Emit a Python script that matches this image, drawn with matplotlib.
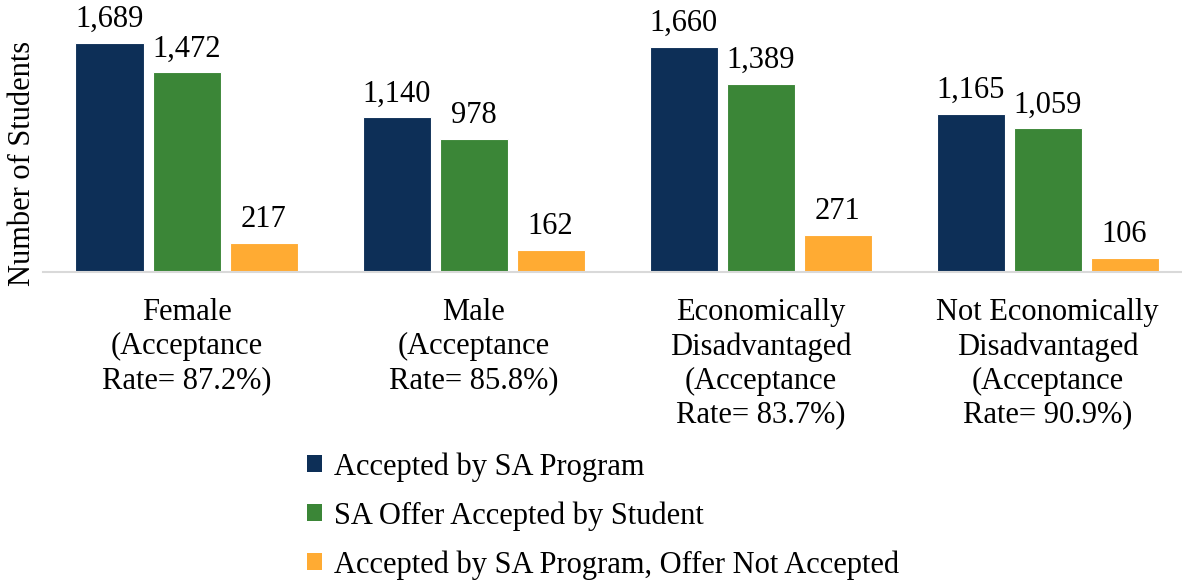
import matplotlib
matplotlib.use("Agg")
import matplotlib.pyplot as plt
import numpy as np
from matplotlib.patches import Patch

categories = [
    "Female\n(Acceptance\nRate= 87.2%)",
    "Male\n(Acceptance\nRate= 85.8%)",
    "Economically\nDisadvantaged\n(Acceptance\nRate= 83.7%)",
    "Not Economically\nDisadvantaged\n(Acceptance\nRate= 90.9%)",
]
series_names = [
    "Accepted by SA Program",
    "SA Offer Accepted by Student",
    "Accepted by SA Program, Offer Not Accepted",
]
accepted_program = [1689, 1140, 1660, 1165]
offer_accepted = [1472, 978, 1389, 1059]
offer_not_accepted = [217, 162, 271, 106]
colors = ["#0d2f57", "#3b8637", "#ffab33"]

plt.rcParams["font.family"] = ["Liberation Serif"]
FS = 22

W, H = 1182, 580
fig = plt.figure(figsize=(W / 100, H / 100), dpi=100)
ax = fig.add_axes([43 / W, (H - 272) / H, 1148 / W, 272 / H])

x = np.arange(len(categories))
step = 77 / 287
width = 68 / 287
all_series = [accepted_program, offer_accepted, offer_not_accepted]
labels = []
for i, (vals, c) in enumerate(zip(all_series, colors)):
    bars = ax.bar(x + (i - 1) * step, vals, width, color=c, edgecolor="white", linewidth=0.8)
    labels += ax.bar_label(bars, labels=[f"{v:,}" for v in vals], padding=6.5, fontsize=FS)

ax.set_xlim(-0.5, 3.5)
ax.set_ylim(0, 2006)
ax.set_xticks(x)
ax.set_xticklabels(categories, fontsize=FS, linespacing=1.22)
ax.tick_params(axis="x", length=0, pad=19)
ax.set_yticks([])
for s in ["top", "right", "left"]:
    ax.spines[s].set_visible(False)
ax.spines["bottom"].set_color("#d9d9d9")
ax.spines["bottom"].set_linewidth(1.5)

fig.text(23 / W, 1 - 163 / H, "Number of Students", rotation=90, fontsize=FS,
         ha="center", va="center")

handles = [Patch(facecolor=c, edgecolor="none") for c in colors]
fig.legend(handles, series_names, loc="upper left", bbox_to_anchor=(307 / W, 1 - 452 / H),
           frameon=False, fontsize=FS, handlelength=0.5, handleheight=0.5,
           handletextpad=0.4, labelspacing=0.64, borderaxespad=0, borderpad=0)

# keep labels inside the canvas, as the original chart does
fig.canvas.draw()
renderer = fig.canvas.get_renderer()
limit = H - 5
for t in labels:
    bb = t.get_window_extent(renderer)
    if bb.y1 > limit:
        dx, dy = t.xyann
        t.xyann = (dx, dy - (bb.y1 - limit) * 72 / 100)

fig.savefig("out.png", dpi=100)
